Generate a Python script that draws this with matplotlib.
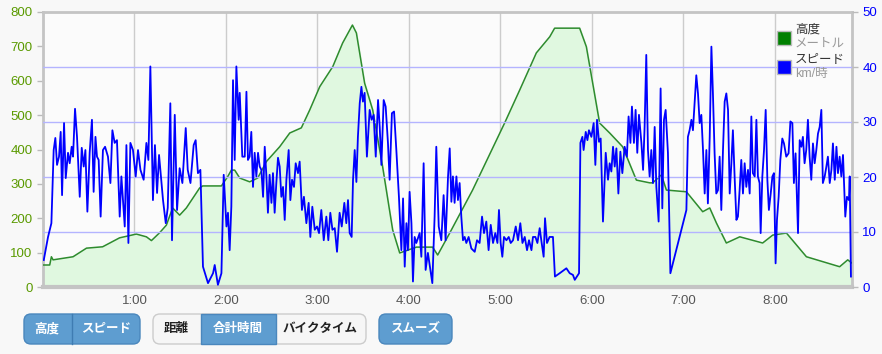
import matplotlib
matplotlib.use('Agg')
import matplotlib.pyplot as plt
from matplotlib.patches import FancyBboxPatch, Rectangle

plt.rcParams['font.family'] = ['Liberation Sans', 'Noto Sans CJK JP', 'DejaVu Sans']

# elevation profile (minutes, metres)
elev_t = [0, 4.4, 5.5, 6.6, 19.7, 28.5, 39.1, 50.2, 61.2, 67.8, 71.1, 76.5, 80.9, 85.0,
          89.6, 94.0, 102.7, 104.7, 117, 121.1, 123.5, 125.7, 129, 135.5, 140.8, 146.5,
          155.2, 161.8, 169.4, 174.9, 181.5, 190, 196.5, 202.9, 205.5, 210.9, 216.2,
          222.7, 229.3, 233.9, 244.8, 255.5, 258.8, 266.7, 281.7, 302.7, 312.6, 323.5,
          332.3, 335.5, 351.9, 356.3, 365, 371.6, 380.1, 389.1, 397.9, 399.8, 405.5,
          408.8, 421.9, 432.6, 437.2, 441.6, 448.1, 456.9, 471.9, 478.5, 487.5, 500.6,
          522.4, 527.7, 530.3]
elev_m = [64, 64, 88, 79, 88, 113, 117, 143, 154, 146, 135, 158, 180, 230,
          209, 230, 288, 294, 294, 321, 340, 340, 317, 306, 317, 365,
          408, 448, 463, 515, 583, 641, 710, 762, 739, 593, 515,
          350, 166, 99, 116, 116, 93, 157, 282, 477, 573, 681,
          728, 753, 753, 699, 477, 448, 408, 311, 303, 303, 326,
          282, 277, 219, 230, 186, 128, 146, 128, 151, 157, 88,
          59, 79, 70]

# speed (minutes, km/h)
speed_t = [0.5, 3.3, 5.5, 7.0, 8.1, 9.2, 10.5, 11.6, 12.5, 13.8, 14.9, 16.4, 17.5, 18.8,
           19.7, 21.0, 22.3, 24.1, 25.4, 26.7, 27.8, 29.1, 30.6, 32.1, 33.2, 34.4, 35.4,
           36.5, 37.8, 39.3, 40.7, 42.6, 44.2, 45.5, 47.0, 48.5, 50.3, 51.4, 53.6, 54.7,
           56.0, 57.3, 59.0, 60.8, 62.3, 63.9, 66.0, 67.8, 69.1, 70.4, 72.1, 73.4, 74.8,
           76.1, 78.7, 80.5, 81.8, 83.5, 84.6, 86.4, 87.9, 89.6, 91.4, 93.6, 94.9, 96.7,
           98.8, 100.1, 101.6, 103.2, 104.9, 108.2, 111.5, 112.6, 114.7, 117.0, 118.5,
           120.3, 121.3, 122.4, 123.5, 124.6, 125.7, 126.8, 128.3,
           129.0, 130.7, 132.3, 133.4, 134.4, 135.5, 136.6, 137.7, 138.8, 139.9, 141.0,
           142.1, 143.2, 144.3, 145.4, 146.5, 147.5, 148.6, 149.8, 150.8, 151.9, 153.0,
           154.1, 155.2, 156.3, 157.4, 158.5, 159.6, 161.1, 162.2, 163.3, 164.6, 165.7,
           167.2, 168.3, 169.8, 171.1, 172.7, 174.2, 175.3, 176.6, 178.2, 179.7, 181.0,
           182.5, 184.1, 185.8, 187.1, 188.4, 189.8, 191.3, 192.8, 194.5, 195.9, 197.6,
           198.9, 200.0, 201.1, 202.4, 203.3, 204.4, 205.5, 206.5, 207.7, 208.8, 209.8,
           210.9, 212.4, 214.2, 215.5, 216.8, 218.2, 219.7, 220.8, 221.9, 223.4, 224.7,
           226.2, 227.3, 228.8, 230.2, 231.7, 233.4, 235.0, 236.1, 237.2, 238.3, 239.3,
           240.4, 241.6, 242.6, 243.7, 244.8, 247.0, 248.1, 249.6, 250.9, 252.4, 254.0,
           255.3, 256.8, 257.9, 259.5,
           261.2, 262.7, 264.0, 265.6, 266.7, 267.8, 268.8, 269.9, 271.1, 272.1, 273.2,
           274.3, 275.4, 276.5, 277.6, 279.1, 280.9, 283.1, 284.6, 286.3, 287.9, 289.2,
           290.7, 292.2, 293.6, 295.1, 296.6, 298.0, 299.0, 300.1, 301.2, 302.3, 303.9,
           305.4, 306.7, 308.2, 310.0, 311.5, 313.0, 314.4, 315.9, 317.4, 318.7, 320.3,
           321.3, 322.9, 324.2, 325.7, 327.0, 328.3, 329.2, 330.5, 332.2, 334.4, 335.7,
           338.8, 343.2, 345.4, 347.5, 348.7, 351.5, 352.4, 353.7, 354.5, 355.9, 357.0,
           358.0, 359.6, 361.1, 362.2, 363.3, 364.6, 365.7, 367.2, 369.0, 370.5, 371.6,
           372.7, 373.8, 374.9, 376.0, 377.3, 378.6, 379.9, 381.4, 382.9, 384.0, 385.2,
           386.2, 387.5, 388.6, 389.7, 390.8,
           392.4, 393.5, 394.5, 395.6, 396.7, 397.8, 398.9, 400.0, 401.1, 402.2, 403.7,
           405.0, 406.1, 407.2, 408.3, 409.8, 411.4, 421.9, 422.9, 424.0, 425.2, 426.2,
           427.3, 428.4, 429.5, 430.6, 431.7, 432.8, 433.9, 435.0, 436.0, 437.2, 438.3,
           439.3, 440.4, 441.5, 442.6, 443.7, 444.8, 445.9, 447.0, 448.1, 449.2, 450.3,
           451.4, 452.4, 453.6, 454.7, 455.7, 456.8, 457.9, 459.0, 460.1, 461.2, 462.3,
           463.4, 464.5, 465.5, 466.7, 467.8, 468.8, 469.9, 470.6, 471.7, 472.8, 473.9,
           475.0, 476.0, 477.2, 478.3, 479.3, 480.4, 481.3, 482.4, 483.5, 484.8, 485.9,
           487.4, 488.9, 490.1, 491.4, 492.4, 493.5, 495.1, 496.2, 497.3, 498.3, 499.4,
           500.5, 501.6, 502.7, 503.8, 504.9, 506.0, 507.1, 508.2, 509.3, 510.4, 511.4,
           512.6, 513.7, 514.7, 515.9, 517.0, 518.0, 519.2, 520.3, 521.3, 522.4, 523.5,
           524.6, 526.1, 527.2, 528.5, 529.0, 529.8]
speed_v = [4.9, 9.1, 11.6, 24.9, 27.1, 22.2, 23.7, 28.2, 16.7, 29.8, 19.8, 24.4, 22.5, 25.5,
           23.7, 32.4, 27.3, 16.4, 25.3, 21.9, 24.9, 13.7, 24.4, 30.4, 17.3, 27.3, 23.7,
           23.1, 12.8, 24.9, 25.5, 23.7, 18.9, 28.5, 26.2, 26.7, 12.8, 20.1, 11.0, 25.8,
           8.0, 26.2, 24.9, 20.1, 24.9, 21.3, 19.5, 26.2, 23.1, 40.1, 15.8, 25.8, 17.1,
           24.0, 15.8, 11.6, 14.4, 33.4, 8.5, 31.3, 14.0, 21.6, 18.9, 28.9, 21.3, 18.9,
           25.8, 26.7, 20.7, 21.3, 3.7, 0.7, 2.5, 4.0, 0.4, 2.5, 20.4,
           11.0, 13.5, 6.7, 14.6, 37.6, 23.1, 40.1, 30.4,
           35.3, 23.7, 23.7, 35.5, 23.1, 23.7, 28.2, 18.2, 24.4, 20.1, 24.4,
           21.9, 21.3, 16.4, 25.5, 20.1, 13.5, 20.4, 15.3, 20.7, 13.5, 18.9,
           23.5, 21.9, 16.4, 18.2, 12.2, 19.5, 24.9, 15.8, 19.5, 18.2, 22.5,
           20.7, 22.8, 14.0, 16.4, 11.6, 15.3, 9.1, 14.6, 10.4, 11.0, 9.8,
           14.0, 8.5, 12.8, 8.5, 13.5, 10.4, 10.7, 6.4, 13.5, 11.0, 15.3,
           11.6, 15.8, 9.8, 9.1, 19.5, 24.9, 19.1, 27.3, 33.4, 36.4, 33.7,
           35.3, 23.7, 32.2, 30.4, 31.3, 23.7, 34.0, 29.1, 22.2, 34.0, 32.8,
           26.2, 19.5, 31.6, 31.9, 24.9, 16.4, 6.7, 16.1, 3.7, 11.6, 6.7,
           17.3, 11.6, 1.0, 9.1, 8.0, 9.8, 5.5, 22.5, 3.1, 6.2, 3.1,
           0.7, 12.8, 25.5, 11.0,
           8.5, 16.7, 8.5, 20.1, 25.2, 15.5, 20.1, 15.3, 20.1, 15.8, 18.9,
           12.8, 8.5, 9.1, 8.0, 9.1, 7.0, 6.4, 8.5, 8.0, 12.8, 9.8,
           11.9, 6.7, 11.3, 8.0, 9.8, 8.0, 14.0, 8.0, 5.5, 9.1, 8.5,
           9.1, 8.0, 8.5, 11.0, 8.5, 11.6, 8.0, 9.1, 6.7, 8.5, 6.7,
           9.1, 9.1, 8.0, 10.7, 8.0, 5.5, 12.5, 8.0, 9.1, 9.1, 1.9,
           2.5, 3.4, 2.5, 2.2, 1.3, 2.5, 26.2, 27.3, 24.9, 28.2, 26.7,
           28.5, 27.3, 29.8, 22.2, 30.4, 26.4, 27.0, 11.9, 24.4, 19.5, 22.5,
           21.0, 25.5, 21.9, 25.2, 17.0, 24.6, 20.7, 25.5, 23.7, 31.0, 26.2,
           32.8, 26.2, 32.2, 24.4, 31.3,
           26.2, 21.3, 29.1, 42.2, 24.9, 20.1, 24.9, 18.9, 29.1, 18.2, 11.9,
           36.1, 14.3, 30.4, 32.2, 24.4, 2.5, 14.0, 27.3, 28.5, 30.4, 28.5,
           33.4, 38.5, 35.2, 29.8, 31.3, 24.9, 17.0, 24.9, 15.2, 27.3, 43.7,
           35.2, 24.3, 17.0, 17.6, 23.7, 14.0, 24.9, 33.7, 35.2, 32.2, 17.0,
           22.5, 28.5, 19.5, 12.2, 12.8, 17.6, 23.1, 17.0, 22.5, 18.2, 21.3,
           17.0, 31.0, 20.7, 20.1, 30.4, 20.1, 18.9, 9.8, 20.1, 24.9, 32.2,
           19.5, 14.0, 17.0, 20.1, 20.7, 4.3, 12.2, 16.4, 23.1, 27.0, 26.1,
           23.7, 24.3, 30.1, 29.8, 18.9, 24.3, 9.8, 26.7, 25.5, 27.3, 22.5,
           24.9, 30.4, 23.7, 19.5, 26.1, 22.5, 24.9, 27.9, 29.1, 32.2, 18.9,
           20.1, 21.9, 23.7, 18.9, 21.3, 26.1, 19.5, 25.5, 20.7, 23.7, 20.1,
           24.0, 12.8, 16.4, 15.8, 20.1, 1.9]

hour_ticks = [60, 120, 180, 240, 300, 360, 420, 480]
hour_labels = ['1:00', '2:00', '3:00', '4:00', '5:00', '6:00', '7:00', '8:00']
elev_ticks = list(range(0, 801, 100))
speed_ticks = list(range(0, 51, 10))

W, H = 882, 354
fig = plt.figure(figsize=(W / 100, H / 100), dpi=100, facecolor='#f8f8f8')
ax = fig.add_axes([43 / W, 1 - 287 / H, (852 - 43) / W, (287 - 12) / H])
ax.set_facecolor('#fbfbfb')

ax.fill_between(elev_t, elev_m, 0, color='#e0f8e0', zorder=1)
ax.plot(elev_t, elev_m, color='#2e8b2e', lw=1.1, zorder=3)
ax.set_xlim(0, 530.5)
ax.set_ylim(0, 800)
ax.set_xticks(hour_ticks)
ax.set_xticklabels(hour_labels)
ax.set_yticks(elev_ticks)
ax.tick_params(axis='y', colors='#bbbbbb', labelcolor='#5a9a00', labelsize=9.5, length=4, width=1)
ax.tick_params(axis='x', length=0, labelcolor='#555555', labelsize=9.5, pad=6)
for t in hour_ticks:
    ax.axvline(t, color='#cccccc', lw=1, zorder=0.5)
for s in ['left', 'right', 'top', 'bottom']:
    ax.spines[s].set_color('#c4c4c4')
    ax.spines[s].set_linewidth(2)
ax.spines['bottom'].set_linewidth(3)

ax2 = ax.twinx()
ax2.set_ylim(0, 50)
ax2.set_yticks(speed_ticks)
for v in speed_ticks[1:-1]:
    ax2.axhline(v, color='#b4b4ff', lw=1, zorder=0.5)
ax2.plot(speed_t, speed_v, color='#0000ff', lw=1.3, zorder=4)
ax2.tick_params(axis='y', colors='#bbbbbb', labelcolor='#0000ff', labelsize=9.5, length=4, width=1)
for s in ['left', 'right', 'top', 'bottom']:
    ax2.spines[s].set_visible(False)

# overlay in pixel coordinates for legend and buttons
ov = fig.add_axes([0, 0, 1, 1], facecolor='none')
ov.set_xlim(0, W)
ov.set_ylim(H, 0)
ov.axis('off')

# legend
for y0, col in [(31, '#008000'), (60, '#0000ff')]:
    ov.add_patch(Rectangle((777, y0), 14, 14, facecolor=col, edgecolor='#bbbbbb', lw=1))
ov.text(795, 30, '高度', fontsize=9, color='#333333', va='center', ha='left')
ov.text(795, 44, 'メートル', fontsize=9, color='#999999', va='center', ha='left')
ov.text(795, 60, 'スピード', fontsize=9, color='#333333', va='center', ha='left')
ov.text(795, 74, 'km/時', fontsize=9, color='#999999', va='center', ha='left')

# buttons
def box(x0, x1, fc, ec):
    ov.add_patch(FancyBboxPatch((x0, 314), x1 - x0, 30, boxstyle='round,pad=0,rounding_size=7',
                                facecolor=fc, edgecolor=ec, lw=1))

blue, blue_edge = '#5e9dd0', '#4a87bd'
box(24, 140, blue, blue_edge)
ov.plot([72, 72], [314, 344], color='#3f7cb2', lw=1)
ov.text(47, 329, '高度', color='white', fontsize=9, fontweight='bold', ha='center', va='center')
ov.text(106, 329, 'スピード', color='white', fontsize=9, fontweight='bold', ha='center', va='center')

box(153, 366, '#f6f6f6', '#cccccc')
ov.add_patch(Rectangle((201, 314), 75, 30, facecolor=blue, edgecolor='#4a87bd', lw=1))
ov.text(176, 329, '距離', color='#222222', fontsize=9, fontweight='bold', ha='center', va='center')
ov.text(238, 329, '合計時間', color='white', fontsize=9, fontweight='bold', ha='center', va='center')
ov.text(320, 329, 'バイクタイム', color='#222222', fontsize=9, fontweight='bold', ha='center', va='center')

box(379, 452, blue, blue_edge)
ov.text(415, 329, 'スムーズ', color='white', fontsize=9, fontweight='bold', ha='center', va='center')

fig.savefig('out.png', dpi=100, facecolor=fig.get_facecolor())
